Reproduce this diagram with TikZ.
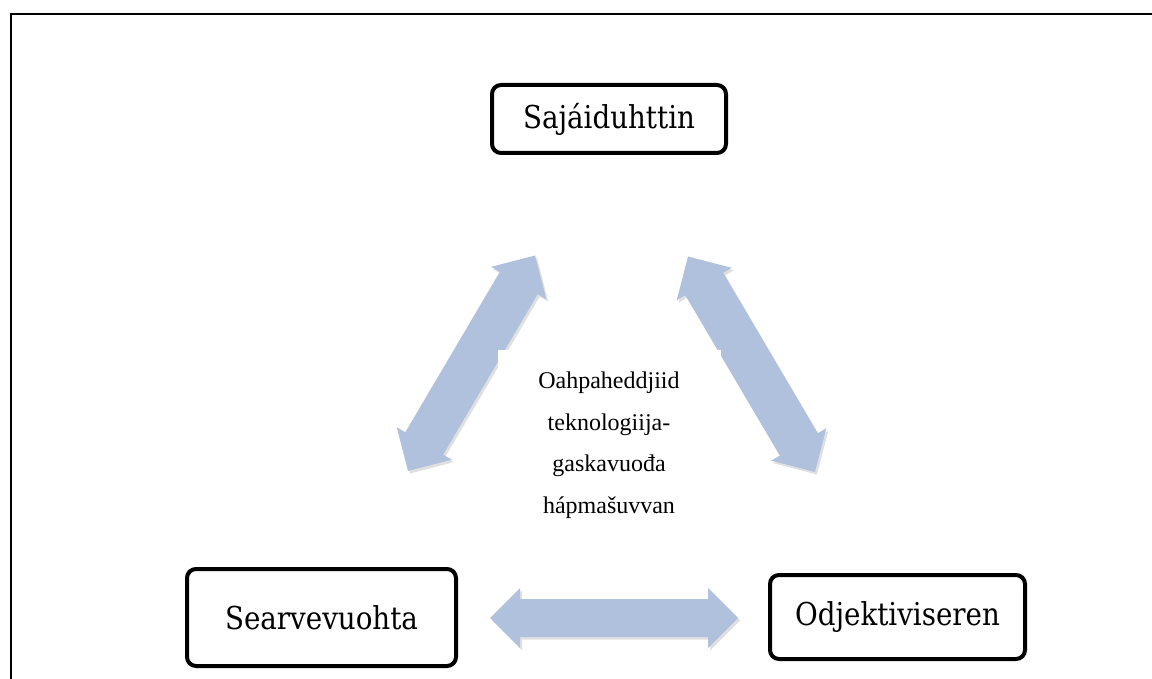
\documentclass[tikz,border=0pt]{standalone}
\usepackage{fontspec}
\setmainfont{Liberation Serif}
\newfontfamily\boxfont[FakeStretch=0.88]{DejaVu Serif}
\usetikzlibrary{calc,shadows}
\definecolor{arrowblue}{RGB}{176,193,221}
\tikzset{
  boxnode/.style={draw=black, line width=4pt, rounded corners=9pt, fill=white, inner sep=0pt,
    font=\boxfont\fontsize{31.5}{38}\selectfont},
  blockarrow/.style={fill=arrowblue,
    drop shadow={shadow xshift=2pt, shadow yshift=-2.5pt, opacity=0.12, fill=black}},
  centertext/.style={fill=white, inner sep=0pt, align=center, minimum width=223pt,
    minimum height=190pt, font=\fontsize{24}{41.5}\selectfont},
  frameline/.style={line width=2pt, draw=black},
}
% #1,#2 tips, #3 shaft half width, #4 head half width, #5 head length
\newcommand\dblblockarrow[5]{%
  \path ($(#1)!#5!(#2)$) coordinate (h1) ($(#2)!#5!(#1)$) coordinate (h2);
  \path[blockarrow] (#1) -- ($(h1)!#4!90:(#1)$) -- ($(h1)!#3!90:(#1)$)
    -- ($(h2)!#3!-90:(#2)$) -- ($(h2)!#4!-90:(#2)$) -- (#2)
    -- ($(h2)!#4!90:(#2)$) -- ($(h2)!#3!90:(#2)$)
    -- ($(h1)!#3!-90:(#1)$) -- ($(h1)!#4!-90:(#1)$) -- cycle;%
}
\begin{document}
\begin{tikzpicture}[x=1pt,y=-1pt]
\useasboundingbox (0,0) rectangle (1152,679);
% frame
\draw[frameline] (11,679) -- (11,14) -- (1152,14);
% arrow end points
\coordinate (LA1) at (535,255.5);
\coordinate (LA2) at (408,471);
\coordinate (RA1) at (688,256.5);
\coordinate (RA2) at (815,472);
\coordinate (HA1) at (490,618);
\coordinate (HA2) at (738,618);
\dblblockarrow{LA1}{LA2}{22pt}{32pt}{32pt}
\dblblockarrow{RA1}{RA2}{22pt}{32pt}{32pt}
\dblblockarrow{HA1}{HA2}{19pt}{30pt}{30pt}
% centre text
\node[centertext] (mid) at (609,445) {Oahpaheddjiid\\teknologiija-\\gaskavuođa\\hápmašuvvan};
% boxes
\node[boxnode, minimum width=234pt, minimum height=68pt] (sa) at (609,119) {Sajáiduhttin};
\node[boxnode, minimum width=269pt, minimum height=97pt] (se) at (321.5,617.5) {Searvevuohta};
\node[boxnode, minimum width=255pt, minimum height=84pt] (od) at (897.5,617) {Odjektiviseren};
\end{tikzpicture}
\end{document}
